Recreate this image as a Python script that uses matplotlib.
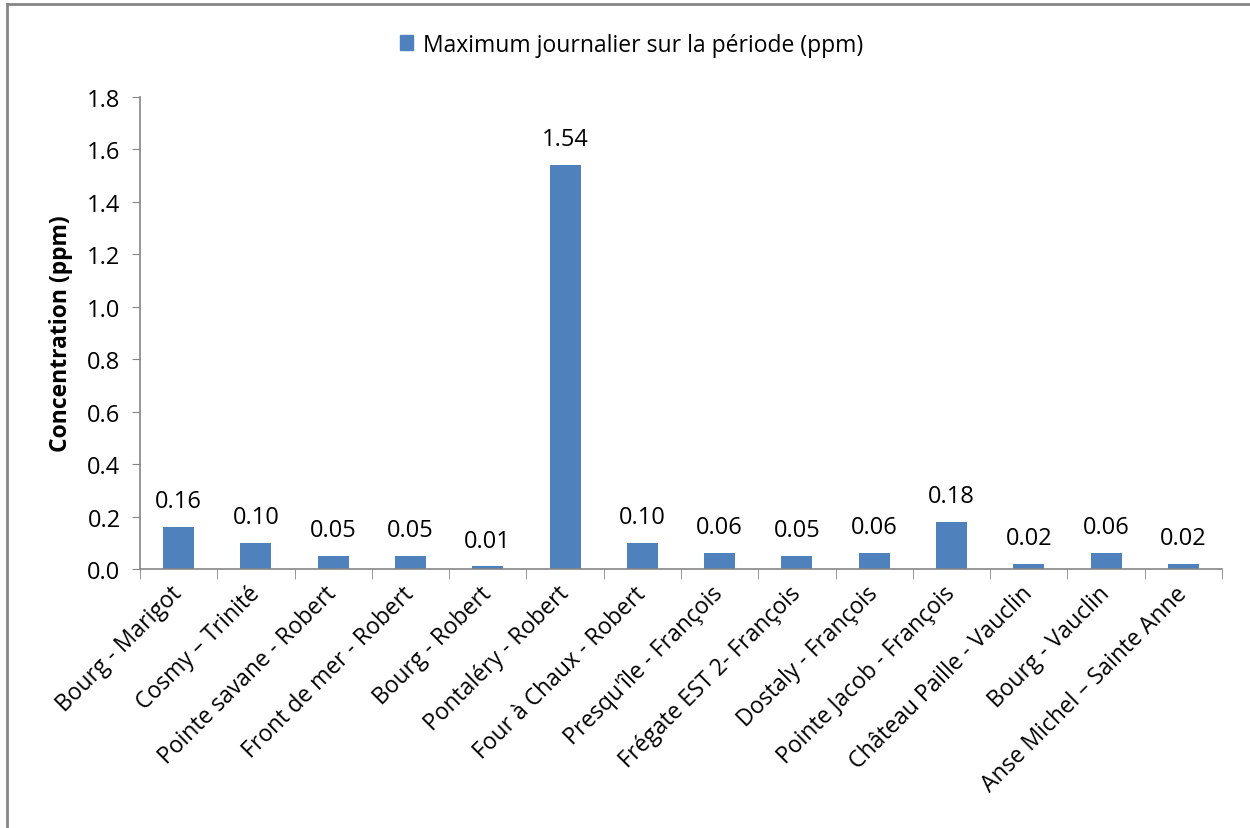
import matplotlib.pyplot as plt
from matplotlib.lines import Line2D
import numpy as np

plt.rcParams['font.family'] = ['Open Sans', 'DejaVu Sans']

stations = ["Bourg - Marigot", "Cosmy \u2013 Trinité", "Pointe savane - Robert",
            "Front de mer - Robert", "Bourg - Robert", "Pontaléry - Robert",
            "Four à Chaux - Robert", "Presqu'île - François", "Frégate EST 2- François",
            "Dostaly - François", "Pointe Jacob - François", "Château Paille - Vauclin",
            "Bourg - Vauclin", "Anse Michel \u2013 Sainte Anne"]
max_journalier = [0.16, 0.10, 0.05, 0.05, 0.01, 1.54, 0.10, 0.06, 0.05, 0.06, 0.18, 0.02, 0.06, 0.02]
serie = "Maximum journalier sur la période (ppm)"
yticks = [0.0, 0.2, 0.4, 0.6, 0.8, 1.0, 1.2, 1.4, 1.6, 1.8]

blue = '#4f81bd'
grey = '#868686'

fig = plt.figure(figsize=(12.5, 8.29), dpi=100)
ax = fig.add_axes([0.112, 0.3124, 0.8656, 0.5694])

x = np.arange(len(stations))
bars = ax.bar(x, max_journalier, width=0.4, color=blue, label=serie)
for b, v in zip(bars, max_journalier):
    ax.annotate(f"{v:.2f}", (b.get_x() + b.get_width() / 2, v), xytext=(0, 10),
                textcoords='offset points', ha='center', va='bottom', fontsize=17)

ax.set_xlim(-0.5, len(stations) - 0.5)
ax.set_ylim(0, 1.8)
ax.set_yticks(yticks)
ax.set_yticklabels([f"{t:.1f}" for t in yticks], fontsize=17)
ax.set_xticks(x)
ax.set_xticklabels(stations, rotation=45, ha='right', va='center', rotation_mode='anchor', fontsize=16.5)
ax.tick_params(axis='x', length=0, pad=15)
ax.tick_params(axis='y', length=6, color=grey, pad=8)
# category boundary ticks under the x axis
ax.set_xticks(np.arange(len(stations) + 1) - 0.5, minor=True)
ax.tick_params(axis='x', which='minor', length=7, color=grey, direction='out')

for s in ['top', 'right']:
    ax.spines[s].set_visible(False)
for s in ['left', 'bottom']:
    ax.spines[s].set_color(grey)
    ax.spines[s].set_linewidth(1.2)

ax.set_ylabel("Concentration (ppm)", fontsize=16.5, fontweight='bold', labelpad=10)

fig.legend(handles=[plt.Rectangle((0, 0), 1, 1, color=blue)], labels=[serie],
           loc='center', bbox_to_anchor=(0.505, 0.945), frameon=False, fontsize=16.5,
           handlelength=0.6, handleheight=0.6, handletextpad=0.4)

# chart area border
fig.add_artist(Line2D([0.0056, 0.0056], [0, 0.9945], color=grey, lw=2, transform=fig.transFigure))
fig.add_artist(Line2D([0.0056, 1], [0.9945, 0.9945], color=grey, lw=2, transform=fig.transFigure))

fig.savefig("out.png", dpi=100, facecolor='white')
